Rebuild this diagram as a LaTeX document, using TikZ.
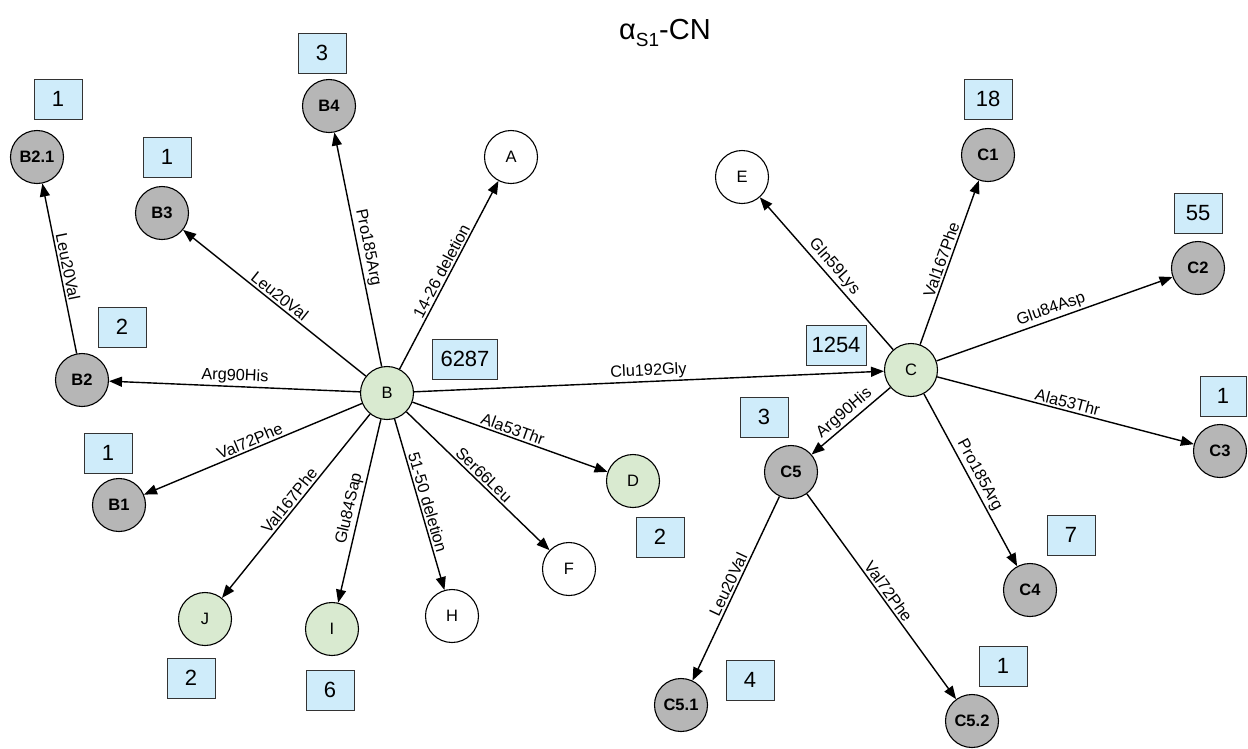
\documentclass[tikz,border=0pt]{standalone}
\usepackage{fontspec}
\setmainfont{Liberation Sans}
\usetikzlibrary{arrows.meta}
\definecolor{ngreen}{RGB}{217,234,208}
\definecolor{ngray}{RGB}{182,182,182}
\definecolor{nblue}{RGB}{207,236,250}
\newcommand\elabfont{\fontsize{16.3}{19}\selectfont}
\newcommand\nlabfont{\fontsize{16.5}{19}\selectfont}
\newcommand\boxfont{\fontsize{22}{26}\selectfont}
\tikzset{
  nd/.style={circle, draw=black, line width=1.1pt, minimum size=53pt, inner sep=0pt, font=\nlabfont},
  gn/.style={nd, fill=ngreen},
  wn/.style={nd, fill=white},
  gy/.style={nd, fill=ngray, font=\nlabfont\bfseries},
  cnt/.style={draw=black!80, line width=1pt, fill=nblue, minimum width=48pt, minimum height=40pt, inner sep=0pt, font=\boxfont},
  edge/.style={draw, line width=1.4pt, -{Triangle[length=13pt,width=10pt]}},
  lab/.style={sloped, above, font=\elabfont, inner sep=2pt, pos=0.5}
}
\begin{document}
\begin{tikzpicture}[x=1pt,y=-1pt]
\useasboundingbox[fill=white] (0,0) rectangle (1248,748);
\node[anchor=base, font=\fontsize{29}{34}\selectfont] (title) at (665,39) {α\raisebox{-0.5ex}{\fontsize{19}{22}\selectfont S1}-CN};
% nodes
\node[gn] (B) at (387,393) {B};
\node[gn] (C) at (911,370) {C};
\node[wn] (A) at (511,157) {A};
\node[gy] (B4) at (329,106) {B4};
\node[gy] (B21) at (37,157) {B2.1};
\node[gy] (B3) at (162,213) {B3};
\node[gy] (B2) at (82,380) {B2};
\node[gy] (B1) at (119,505) {B1};
\node[gn] (J) at (205,619) {J};
\node[gn] (I) at (332,629) {I};
\node[wn] (H) at (452,616) {H};
\node[wn] (F) at (569,569) {F};
\node[gn] (D) at (633,481) {D};
\node[wn] (E) at (742,177) {E};
\node[gy] (C1) at (988,155) {C1};
\node[gy] (C2) at (1198,268) {C2};
\node[gy] (C3) at (1220,451) {C3};
\node[gy] (C4) at (1030,590) {C4};
\node[gy] (C5) at (791,472) {C5};
\node[gy] (C51) at (681,705) {C5.1};
\node[gy] (C52) at (972,721) {C5.2};
% count boxes
\node[cnt] (nB21) at (58,99) {1};
\node[cnt] (nB3) at (167,157) {1};
\node[cnt] (nB2) at (122,327) {2};
\node[cnt] (nB4) at (322,53) {3};
\node[cnt] (nB1) at (108,453) {1};
\node[cnt] (nJ) at (191,678) {2};
\node[cnt] (nI) at (330,690) {6};
\node[cnt] (nD) at (660,537) {2};
\node[cnt, minimum width=65pt] (nB) at (465,359) {6287};
\node[cnt, minimum width=60pt] (nC) at (836,345) {1254};
\node[cnt] (nC1) at (988,99) {18};
\node[cnt] (nC2) at (1198,213) {55};
\node[cnt, minimum width=46pt] (nC3) at (1223,396) {1};
\node[cnt] (nC5) at (764,417) {3};
\node[cnt] (nC4) at (1071,535) {7};
\node[cnt] (nC51) at (750,680) {4};
\node[cnt] (nC52) at (1003,666) {1};
% edges from B
\draw[edge] (B) -- node[lab]{Arg90His} (B2);
\draw[edge] (B2) -- node[lab]{Leu20Val} (B21);
\draw[edge] (B) -- node[lab]{Leu20Val} (B3);
\draw[edge] (B) -- node[lab]{Pro185Arg} (B4);
\draw[edge] (B) -- node[lab]{14-26 deletion} (A);
\draw[edge] (B) -- node[lab]{Clu192Gly} (C);
\draw[edge] (B) -- node[lab]{Ala53Thr} (D);
\draw[edge] (B) -- node[lab]{Ser66Leu} (F);
\draw[edge] (B) -- node[lab]{51-50 deletion} (H);
\draw[edge] (B) -- node[lab]{Glu84Sap} (I);
\draw[edge] (B) -- node[lab]{Val167Phe} (J);
\draw[edge] (B) -- node[lab]{Val72Phe} (B1);
% edges from C
\draw[edge] (C) -- node[lab]{Gln59Lys} (E);
\draw[edge] (C) -- node[lab]{Val167Phe} (C1);
\draw[edge] (C) -- node[lab]{Glu84Asp} (C2);
\draw[edge] (C) -- node[lab]{Ala53Thr} (C3);
\draw[edge] (C) -- node[lab]{Pro185Arg} (C4);
\draw[edge] (C) -- node[lab]{Arg90His} (C5);
\draw[edge] (C5) -- node[lab]{Leu20Val} (C51);
\draw[edge] (C5) -- node[lab]{Val72Phe} (C52);
\end{tikzpicture}
\end{document}
